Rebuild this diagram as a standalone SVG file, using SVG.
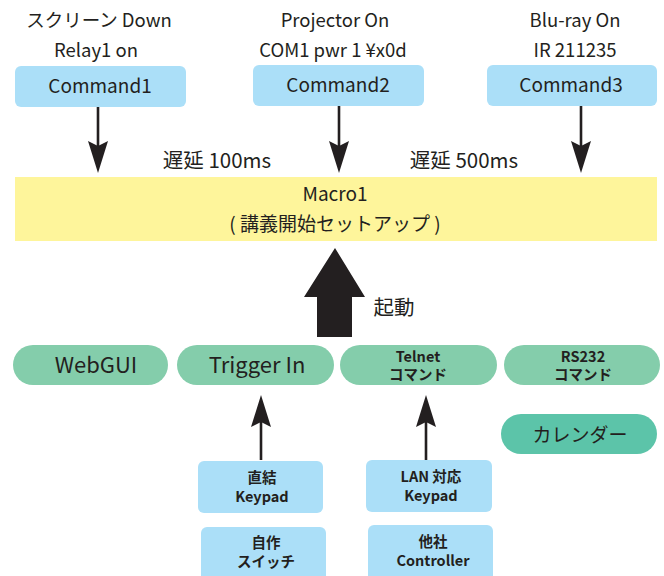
<svg xmlns="http://www.w3.org/2000/svg" width="664" height="576" viewBox="0 0 664 576">
<style>
text{font-family:"Noto Sans CJK JP","Noto Sans",sans-serif;fill:#231f20;text-anchor:middle;font-weight:400}
.lbl{font-size:18.5px}
.cmd{font-size:19px}
.dly{font-size:20.5px}
.pill{font-size:22px}
.sm{font-size:14.5px;font-weight:bold}
.blue{fill:#abdff8}
.green{fill:#84cdab}
.cal{fill:#5cc4a9}
.line{stroke:#231f20;stroke-width:2.6;fill:none}
</style>
<defs>
<marker id="ah" markerUnits="userSpaceOnUse" markerWidth="32" markerHeight="20" viewBox="0 0 32 20" refX="22" refY="10" orient="auto">
<path d="M0,0 L32,10 L0,20 L5,10 Z" fill="#231f20"/>
</marker>
</defs>
<rect width="664" height="576" fill="#fff"/>

<g id="macro1">
<rect x="15" y="177" width="642" height="64" fill="#fef59b"/>
<text class="cmd" x="335" y="201">Macro1</text>
<text class="cmd" x="335" y="231">( 講義開始セットアップ )</text>
</g>

<g id="command1">
<text class="lbl" x="99" y="27">スクリーン Down</text>
<text class="lbl" x="96" y="57">Relay1 on</text>
<rect class="blue" x="15" y="66" width="171" height="41" rx="6"/>
<text class="cmd" x="100" y="93">Command1</text>
</g>

<g id="command2">
<text class="lbl" x="335" y="27">Projector On</text>
<text class="lbl" x="333" y="57">COM1 pwr 1 ¥x0d</text>
<rect class="blue" x="253" y="65" width="171" height="41" rx="6"/>
<text class="cmd" x="338" y="92">Command2</text>
</g>

<g id="command3">
<text class="lbl" x="575" y="27">Blu-ray On</text>
<text class="lbl" x="575" y="57">IR 211235</text>
<rect class="blue" x="487" y="65" width="170" height="41" rx="6"/>
<text class="cmd" x="571" y="92">Command3</text>
</g>

<g id="webgui">
<rect class="green" x="13" y="345" width="155" height="40" rx="20"/>
<text class="pill" x="96" y="373">WebGUI</text>
</g>
<g id="trigger-in">
<rect class="green" x="177" y="345" width="157" height="40" rx="20"/>
<text class="pill" x="257" y="373">Trigger In</text>
</g>
<g id="telnet">
<rect class="green" x="340" y="345" width="157" height="40" rx="20"/>
<text class="sm" x="418" y="362">Telnet</text>
<text class="sm" x="418" y="380">コマンド</text>
</g>
<g id="rs232">
<rect class="green" x="504" y="345" width="156" height="40" rx="20"/>
<text class="sm" x="583" y="362">RS232</text>
<text class="sm" x="583" y="380">コマンド</text>
</g>
<g id="calendar">
<rect class="cal" x="501" y="414" width="156" height="40" rx="20"/>
<text class="cmd" x="580" y="442">カレンダー</text>
</g>

<g id="keypad-direct">
<rect class="blue" x="198" y="461" width="125" height="52" rx="6"/>
<text class="sm" x="262" y="483">直結</text>
<text class="sm" x="262" y="502">Keypad</text>
</g>
<g id="keypad-lan">
<rect class="blue" x="366" y="460" width="126" height="52" rx="6"/>
<text class="sm" x="431" y="482">LAN 対応</text>
<text class="sm" x="431" y="501">Keypad</text>
</g>
<g id="custom-switch">
<rect class="blue" x="201" y="527" width="125" height="56" rx="6"/>
<text class="sm" x="266" y="548">自作</text>
<text class="sm" x="266" y="567">スイッチ</text>
</g>
<g id="other-controller">
<rect class="blue" x="368" y="525" width="125" height="58" rx="6"/>
<text class="sm" x="433" y="547">他社</text>
<text class="sm" x="433" y="566">Controller</text>
</g>

<g id="connectors">
<line class="line" x1="98" y1="107" x2="98" y2="163" marker-end="url(#ah)"/>
<line class="line" x1="339" y1="106" x2="339" y2="163" marker-end="url(#ah)"/>
<line class="line" x1="581" y1="106" x2="581" y2="163" marker-end="url(#ah)"/>
<text class="dly" x="217" y="168">遅延 100ms</text>
<text class="dly" x="464" y="168">遅延 500ms</text>
<path d="M335,248 L365,297 L352,297 L352,337 L317,337 L317,297 L304,297 Z" fill="#231f20"/>
<text class="dly" x="394" y="315">起動</text>
<line class="line" x1="261" y1="460" x2="261" y2="405" marker-end="url(#ah)"/>
<line class="line" x1="426" y1="460" x2="426" y2="405" marker-end="url(#ah)"/>
</g>
</svg>
